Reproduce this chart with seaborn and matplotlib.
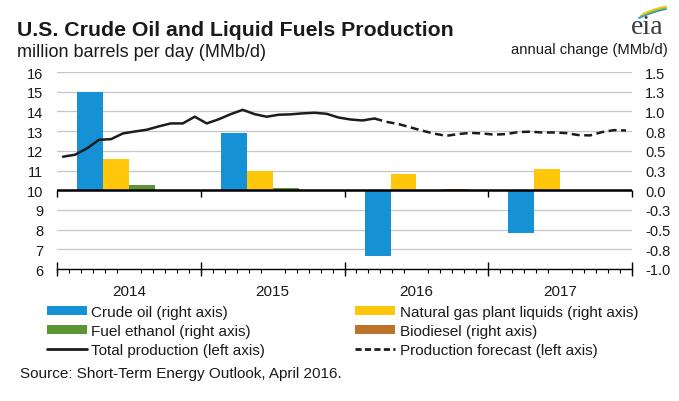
import numpy as np
import pandas as pd
import matplotlib
matplotlib.use("Agg")
import matplotlib.pyplot as plt
import seaborn as sns
from matplotlib.patches import Patch
from matplotlib.lines import Line2D

# ---------------- data ----------------
years = ["2014", "2015", "2016", "2017"]
components = ["Crude oil", "Natural gas plant liquids", "Fuel ethanol", "Biodiesel"]
crude_oil = [1.25, 0.72, -0.83, -0.54]
ngpl = [0.40, 0.25, 0.20, 0.27]
fuel_ethanol = [0.07, 0.03, 0.00, 0.00]
biodiesel = [0.00, 0.00, 0.01, 0.00]

total_production = [
    11.70, 11.80, 12.12, 12.56, 12.59, 12.88, 12.98, 13.07, 13.24, 13.39, 13.39, 13.73,
    13.39, 13.60, 13.86, 14.08, 13.86, 13.73, 13.83, 13.85, 13.90, 13.93, 13.88, 13.69,
    13.59, 13.54, 13.64, 13.47, 13.36, 13.19, 13.02, 12.87, 12.76, 12.85, 12.91, 12.88,
    12.82, 12.85, 12.95, 12.97, 12.93, 12.93, 12.90, 12.80, 12.78, 12.95, 13.05, 13.03,
]
last_history_month = 26  # March 2016

left_ticks = [6, 7, 8, 9, 10, 11, 12, 13, 14, 15, 16]
right_ticks = [-1.0, -0.75, -0.5, -0.25, 0.0, 0.25, 0.5, 0.75, 1.0, 1.25, 1.5]
right_tick_labels = ["-1.0", "-0.8", "-0.5", "-0.3", "0.0", "0.3", "0.5", "0.8", "1.0", "1.3", "1.5"]

colors = ["#1592D5", "#FFC60B", "#5C9634", "#BC722B"]
line_color = "#1C1C1C"
text_color = "#1A1A1A"

# ---------------- style ----------------
sns.set_theme(style="white")
plt.rcParams["font.family"] = ["Liberation Sans", "DejaVu Sans"]
plt.rcParams["text.color"] = text_color

W, H = 679, 402
fig = plt.figure(figsize=(W / 100, H / 100), dpi=100)
fig.patch.set_facecolor("white")

ax_bars = fig.add_axes([57 / W, 1 - 270 / H, 575 / W, 197 / H])

df = pd.DataFrame({
    "year": years * 4,
    "component": [c for c in components for _ in years],
    "value": crude_oil + ngpl + fuel_ethanol + biodiesel,
})
sns.barplot(data=df, x="year", y="value", hue="component", hue_order=components,
            order=years, palette=colors, width=0.72, saturation=1, errorbar=None,
            legend=False, linewidth=0, ax=ax_bars)

ax_line = ax_bars.twinx()

n_years = len(years)
months_per_year = len(total_production) // n_years
month_pos = -0.5 + (np.arange(len(total_production)) + 0.5) / months_per_year
tp = np.array(total_production)
h = last_history_month
sns.lineplot(x=month_pos[:h + 1], y=tp[:h + 1], color=line_color, linewidth=1.8, ax=ax_line)
sns.lineplot(x=month_pos[h:], y=tp[h:], color=line_color, linewidth=1.8,
             linestyle=(0, (3.2, 1.8)), ax=ax_line)

# ---------------- axes ----------------
ax_bars.set_xlim(-0.5, n_years - 0.5)
ax_bars.set_ylim(right_ticks[0], right_ticks[-1])
ax_line.set_ylim(left_ticks[0], left_ticks[-1])

ax_bars.yaxis.tick_right()
ax_bars.set_yticks(right_ticks, labels=right_tick_labels)
ax_bars.tick_params(axis="y", length=0, pad=9.5, labelsize=10.5, labelcolor=text_color)
ax_bars.grid(axis="y", color="#C6C6C6", linewidth=0.9)
ax_bars.set_axisbelow(True)

ax_line.yaxis.tick_left()
ax_line.set_yticks(left_ticks)
ax_line.tick_params(axis="y", length=0, pad=10, labelsize=10.5, labelcolor=text_color)

for a in (ax_bars, ax_line):
    a.set_xlabel("")
    a.set_ylabel("")
    for s in ("top", "left", "right"):
        a.spines[s].set_visible(False)
ax_line.spines["bottom"].set_visible(False)
ax_bars.spines["bottom"].set_color("black")
ax_bars.spines["bottom"].set_linewidth(1.0)

ax_bars.tick_params(axis="x", which="major", length=0, pad=11, labelsize=11, labelcolor=text_color)
month_edges = -0.5 + np.arange(len(total_production) + 1) / months_per_year
ax_bars.set_xticks(month_edges, minor=True)
ax_bars.tick_params(axis="x", which="minor", direction="out", length=3, width=0.8, color="black", bottom=True)

year_edges = np.arange(n_years + 1) - 0.5
sec = ax_bars.secondary_xaxis("bottom")
sec.set_xticks(year_edges, labels=[""] * len(year_edges))
sec.tick_params(axis="x", direction="inout", length=10, width=1, color="black")
sec.spines["bottom"].set_visible(False)

zero_frac = (0 - right_ticks[0]) / (right_ticks[-1] - right_ticks[0])
sec0 = ax_bars.secondary_xaxis(zero_frac)
sec0.set_xticks(year_edges, labels=[""] * len(year_edges))
sec0.tick_params(axis="x", direction="out", length=5, width=1, color="black")
sec0.spines["bottom"].set_visible(False)
ax_bars.axhline(0, color="black", linewidth=1.8, zorder=5)

# ---------------- texts ----------------
fig.text(17 / W, 1 - 36 / H, "U.S. Crude Oil and Liquid Fuels Production",
         fontsize=15.3, fontweight="bold", va="baseline", ha="left", color=text_color)
fig.text(17 / W, 1 - 57 / H, "million barrels per day (MMb/d)",
         fontsize=13, va="baseline", ha="left", color=text_color)
fig.text(668 / W, 1 - 54 / H, "annual change (MMb/d)",
         fontsize=10.6, va="baseline", ha="right", color=text_color)
fig.text(20 / W, 1 - 374 / H, "Source: Short-Term Energy Outlook, April 2016.",
         fontsize=11, va="center", ha="left", color=text_color)

# eia logo
fig.text(647 / W, 1 - 34 / H, "eia", family=["Liberation Serif", "DejaVu Serif"],
         fontsize=20, ha="center", va="baseline", color="#3A3A3A")
t = np.linspace(0, 1, 30)
for k, c in enumerate(["#2E8BC9", "#7DBB45", "#F2C414"]):
    x0, y0 = 639 + k * 2, 19 - k * 2.0
    x1, y1 = 666, 10 - k * 1.2
    xs = x0 + (x1 - x0) * t
    ys = y0 + (y1 - y0) * t - 3.5 * t * (1 - t)
    fig.add_artist(Line2D(xs / W, 1 - ys / H, color=c, linewidth=1.3,
                          transform=fig.transFigure))

# ---------------- legend ----------------
handles = [
    Patch(facecolor=colors[0], edgecolor="none"),
    Patch(facecolor=colors[2], edgecolor="none"),
    Line2D([], [], color=line_color, linewidth=2),
    Patch(facecolor=colors[1], edgecolor="none"),
    Patch(facecolor=colors[3], edgecolor="none"),
    Line2D([], [], color=line_color, linewidth=2, linestyle=(0, (2.2, 1.2))),
]
labels = [
    "Crude oil (right axis)",
    "Fuel ethanol (right axis)",
    "Total production (left axis)",
    "Natural gas plant liquids (right axis)",
    "Biodiesel (right axis)",
    "Production forecast (left axis)",
]
fig.legend(handles, labels, ncol=2, loc="upper left", bbox_to_anchor=(47 / W, 1 - 306 / H),
           frameon=False, fontsize=11, handlelength=2.6, handleheight=0.55,
           handletextpad=0.3, columnspacing=5.9, labelspacing=0.32,
           borderpad=0, borderaxespad=0, labelcolor=text_color)

fig.savefig("out.png", dpi=100, facecolor="white")
